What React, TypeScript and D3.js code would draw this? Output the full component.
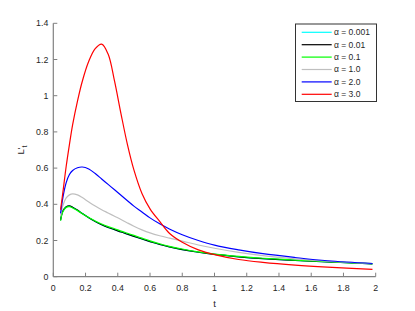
import React from "react";
import * as d3 from "d3";

const tGrid = [0.045, 0.06, 0.08, 0.1, 0.12, 0.15, 0.18, 0.22, 0.26, 0.3, 0.34, 0.38, 0.42, 0.46, 0.5, 0.55, 0.6, 0.66, 0.72, 0.8, 0.9, 1.0, 1.15, 1.3, 1.5, 1.7, 1.98];

const cyanVals = [0.312, 0.364, 0.386, 0.39, 0.383, 0.367, 0.349, 0.326, 0.305, 0.287, 0.272, 0.26, 0.247, 0.235, 0.223, 0.208, 0.194, 0.178, 0.165, 0.15, 0.135, 0.123, 0.11, 0.1, 0.09, 0.082, 0.071];
const blackVals = [0.312, 0.365, 0.387, 0.391, 0.384, 0.368, 0.349, 0.326, 0.305, 0.287, 0.272, 0.26, 0.247, 0.235, 0.223, 0.208, 0.194, 0.178, 0.165, 0.15, 0.135, 0.123, 0.11, 0.1, 0.09, 0.082, 0.071];
const greenVals = [0.31, 0.36, 0.383, 0.387, 0.38, 0.365, 0.348, 0.327, 0.308, 0.291, 0.277, 0.265, 0.252, 0.24, 0.228, 0.213, 0.198, 0.182, 0.168, 0.153, 0.137, 0.125, 0.112, 0.102, 0.092, 0.083, 0.072];
const grayVals = [0.335, 0.395, 0.435, 0.452, 0.458, 0.452, 0.437, 0.413, 0.39, 0.37, 0.352, 0.334, 0.316, 0.297, 0.279, 0.259, 0.242, 0.226, 0.213, 0.197, 0.175, 0.157, 0.134, 0.116, 0.099, 0.086, 0.073];
const blueVals = [0.35, 0.44, 0.52, 0.565, 0.587, 0.602, 0.606, 0.595, 0.57, 0.54, 0.51, 0.48, 0.45, 0.42, 0.39, 0.358, 0.325, 0.292, 0.264, 0.232, 0.2, 0.174, 0.148, 0.127, 0.106, 0.088, 0.073];
const redVals = [0.37, 0.47, 0.61, 0.73, 0.84, 0.97, 1.08, 1.19, 1.26, 1.285, 1.23, 1.08, 0.9, 0.73, 0.59, 0.46, 0.375, 0.305, 0.24, 0.19, 0.148, 0.122, 0.095, 0.079, 0.064, 0.053, 0.041];

const seriesLabels = ["α = 0.001", "α = 0.01", "α = 0.1", "α = 1.0", "α = 2.0", "α = 3.0"];
const seriesColors = ["#00ffff", "#000000", "#00ff00", "#bfbfbf", "#0000ff", "#ff0000"];
const seriesValues = [cyanVals, blackVals, greenVals, grayVals, blueVals, redVals];

const xTicks = [0, 0.2, 0.4, 0.6, 0.8, 1, 1.2, 1.4, 1.6, 1.8, 2];
const yTicks = [0, 0.2, 0.4, 0.6, 0.8, 1, 1.2, 1.4];

const FONT = "'Liberation Sans', Arial, sans-serif";

export default function App() {
  const W = 415, H = 311;
  const x = d3.scaleLinear().domain([0, 2]).range([53.3, 375.7]);
  const y = d3.scaleLinear().domain([0, 1.4]).range([276.7, 23.3]);
  const line = d3
    .line<[number, number]>()
    .x((d) => x(d[0]))
    .y((d) => y(d[1]))
    .curve(d3.curveCatmullRom.alpha(0.5));
  const fmt = (v: number) => String(+v.toFixed(1));
  const axisColor = "#808080";
  const textColor = "#262626";
  const legX = 295.5, legY = 24, legW = 81, legH = 77.5;
  const rowY0 = 32.3, rowStep = 12.4;

  return (
    <svg width={W} height={H} style={{ position: "absolute", left: 0, top: 0, background: "#fff" }} fontFamily={FONT}>
      <rect x={0} y={0} width={W} height={H} fill="#fff" />
      {seriesValues.map((vals, i) => (
        <path
          key={i}
          d={line(tGrid.map((t, j) => [t, vals[j]] as [number, number])) || ""}
          fill="none"
          stroke={seriesColors[i]}
          strokeWidth={1.2}
        />
      ))}
      {/* axes */}
      <line x1={x(0)} x2={x(0)} y1={y(1.4)} y2={y(0)} stroke={axisColor} strokeWidth={1.2} />
      <line x1={x(0)} x2={x(2)} y1={y(0)} y2={y(0)} stroke={axisColor} strokeWidth={1.2} />
      {yTicks.map((v) => (
        <g key={"y" + v}>
          <line x1={x(0)} x2={x(0) + 4} y1={y(v)} y2={y(v)} stroke={axisColor} strokeWidth={1} />
          <text x={x(0) - 5} y={y(v)} dy="0.35em" textAnchor="end" fontSize={8.8} fill={textColor}>
            {fmt(v)}
          </text>
        </g>
      ))}
      {xTicks.map((v) => (
        <g key={"x" + v}>
          <line x1={x(v)} x2={x(v)} y1={y(0)} y2={y(0) - 4} stroke={axisColor} strokeWidth={1} />
          <text x={x(v)} y={291} textAnchor="middle" fontSize={8.8} fill={textColor}>
            {fmt(v)}
          </text>
        </g>
      ))}
      <text x={x(1)} y={306.5} textAnchor="middle" fontSize={9.5} fill={textColor}>
        t
      </text>
      <text transform={`translate(24,150) rotate(-90)`} textAnchor="middle" fontSize={9.5} fill={textColor}>
        L'<tspan dy="3" fontSize={7}>t</tspan>
      </text>
      {/* legend */}
      <rect x={legX} y={legY} width={legW} height={legH} fill="#fff" stroke="#333" strokeWidth={1} />
      {seriesLabels.map((lab, i) => {
        const ry = rowY0 + i * rowStep;
        return (
          <g key={lab}>
            <line x1={301.7} x2={331.7} y1={ry} y2={ry} stroke={seriesColors[i]} strokeWidth={1.2} />
            <text x={334} y={ry} dy="0.35em" fontSize={8.5} fill={textColor}>
              {lab}
            </text>
          </g>
        );
      })}
    </svg>
  );
}
